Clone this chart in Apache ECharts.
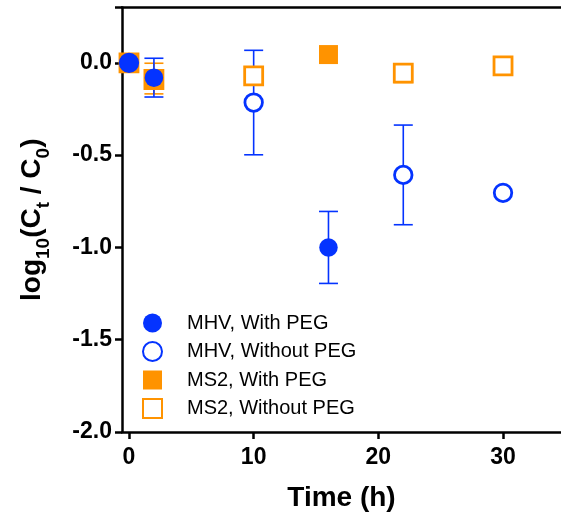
<!DOCTYPE html>
<html><head><meta charset="utf-8">
<script src="https://cdn.jsdelivr.net/npm/echarts@6/dist/echarts.min.js"></script>
<style>html,body{margin:0;padding:0;background:#fff}#c{width:561px;height:523px}</style>
</head><body><div id="c"></div>
<script>
// Data
var mhvWithX = [0, 2, 16];
var mhvWithY = [0, -0.08, -1.0];
var mhvWithErr = [0, 0.105, 0.195];

var mhvWithoutX = [0, 10, 22, 30];
var mhvWithoutY = [0, -0.215, -0.607, -0.704];
var mhvWithoutErr = [0, 0.283, 0.27, 0];

var ms2WithX = [0, 2, 16];
var ms2WithY = [0, -0.085, 0.045];
var ms2WithErr = [0, 0.083, 0];

var ms2WithoutX = [0, 2, 10, 22, 30];
var ms2WithoutY = [0, -0.09, -0.07, -0.056, -0.016];
var ms2WithoutErr = [0, 0, 0.04, 0.05, 0];

var xTicks = [0, 10, 20, 30];

var BLUE = '#0433ff', ORANGE = '#ff9300';
var FONT = 'Liberation Sans, Arial, Helvetica, sans-serif';

function pts(xs, ys) { return xs.map(function (x, i) { return [x, ys[i]]; }); }
function errPts(xs, ys, es) { return xs.map(function (x, i) { return [x, ys[i] - es[i], ys[i] + es[i]]; }).filter(function (d, i) { return es[i] > 0; }); }

function errSeries(data, color) {
  return {
    type: 'custom',
    silent: true,
    data: data,
    encode: { x: 0, y: [1, 2] },
    renderItem: function (params, api) {
      var x = api.value(0);
      var lo = api.coord([x, api.value(1)]);
      var hi = api.coord([x, api.value(2)]);
      var hw = 9.5;
      var st = { stroke: color, lineWidth: 1.6, fill: null };
      return {
        type: 'group',
        children: [
          { type: 'line', shape: { x1: lo[0], y1: lo[1], x2: hi[0], y2: hi[1] }, style: st },
          { type: 'line', shape: { x1: lo[0] - hw, y1: lo[1], x2: lo[0] + hw, y2: lo[1] }, style: st },
          { type: 'line', shape: { x1: hi[0] - hw, y1: hi[1], x2: hi[0] + hw, y2: hi[1] }, style: st }
        ]
      };
    }
  };
}

var chart = echarts.init(document.getElementById('c'), null, { renderer: 'canvas' });
var option = {
  animation: false,
  backgroundColor: '#fff',
  grid: { left: 122, right: 0, top: 7.5, bottom: 91, containLabel: false },
  xAxis: [{
    type: 'value', min: -0.56, max: 34.65,
    axisLine: { onZero: false, lineStyle: { color: '#000', width: 2.5 } },
    axisTick: { show: true, length: 7, lineStyle: { width: 2.5, color: '#000' }, customValues: xTicks },
    axisLabel: { customValues: xTicks, color: '#000', fontSize: 23, fontWeight: 'bold', fontFamily: FONT, margin: 14 },
    splitLine: { show: false },
    name: 'Time (h)', nameLocation: 'middle', nameGap: 52,
    nameTextStyle: { color: '#000', fontSize: 28, fontWeight: 'bold', fontFamily: FONT }
  }, {
    type: 'value', position: 'top', min: -0.56, max: 34.65,
    axisLine: { show: true, onZero: false, lineStyle: { color: '#000', width: 2.5 } },
    axisTick: { show: false }, axisLabel: { show: false }, splitLine: { show: false }
  }],
  yAxis: {
    type: 'value', min: -2, max: 0.3, interval: 0.5,
    axisLine: { show: true, onZero: false, lineStyle: { color: '#000', width: 2.5 } },
    axisTick: { show: true, length: 7, lineStyle: { width: 2.5, color: '#000' } },
    axisLabel: { color: '#000', fontSize: 23, fontWeight: 'bold', fontFamily: FONT, margin: 10,
      formatter: function (v) { return v > 0.25 ? '' : v.toFixed(1); } },
    splitLine: { show: false },
    name: '{a|log}{s|10}{a|(C}{s|t}{a| / C}{s|0}{a|)}',
    nameLocation: 'middle', nameGap: 76, nameRotate: 90,
    nameTextStyle: {
      color: '#000', fontSize: 28, fontWeight: 'bold', fontFamily: FONT,
      rich: {
        a: { color: '#000', fontSize: 28, fontWeight: 'bold', fontFamily: FONT, lineHeight: 34, verticalAlign: 'bottom' },
        s: { color: '#000', fontSize: 19, fontWeight: 'bold', fontFamily: FONT, lineHeight: 34, verticalAlign: 'bottom', padding: [0, 0, -7, 0] }
      }
    }
  },
  legend: {
    orient: 'vertical', left: 137, top: 308,
    itemWidth: 19, itemHeight: 19, itemGap: 8,
    data: ['MHV, With PEG', 'MHV, Without PEG', 'MS2, With PEG', 'MS2, Without PEG'],
    textStyle: { color: '#000', fontSize: 20, fontFamily: FONT, padding: [0, 0, 0, 20] }
  },
  series: [
    errSeries(errPts(ms2WithoutX, ms2WithoutY, ms2WithoutErr), ORANGE),
    { name: 'MS2, Without PEG', type: 'scatter', symbol: 'rect', symbolSize: 18, data: pts(ms2WithoutX, ms2WithoutY),
      itemStyle: { color: '#fff', borderColor: ORANGE, borderWidth: 2.8, opacity: 1 } },
    errSeries(errPts(ms2WithX, ms2WithY, ms2WithErr), ORANGE),
    { name: 'MS2, With PEG', type: 'scatter', symbol: 'rect', symbolSize: 19, data: pts(ms2WithX, ms2WithY),
      itemStyle: { color: ORANGE, opacity: 1 } },
    errSeries(errPts(mhvWithoutX, mhvWithoutY, mhvWithoutErr), BLUE),
    { name: 'MHV, Without PEG', type: 'scatter', symbol: 'circle', symbolSize: 17.5, data: pts(mhvWithoutX, mhvWithoutY),
      itemStyle: { color: '#fff', borderColor: BLUE, borderWidth: 2.8, opacity: 1 } },
    errSeries(errPts(mhvWithX, mhvWithY, mhvWithErr), BLUE),
    { name: 'MHV, With PEG', type: 'scatter', symbol: 'circle', symbolSize: 18.5, data: pts(mhvWithX, mhvWithY),
      itemStyle: { color: BLUE, opacity: 1 } }
  ]
};
chart.setOption(option);
</script>
</body></html>
